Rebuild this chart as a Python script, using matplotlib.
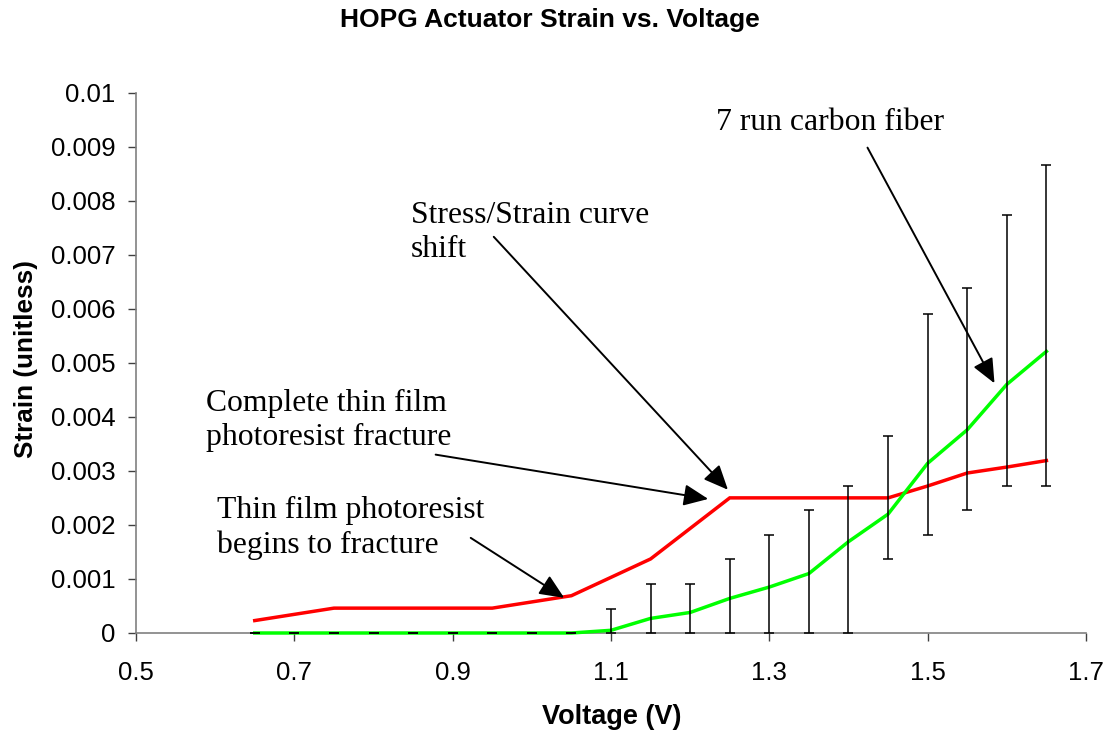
import matplotlib
matplotlib.use("Agg")
import matplotlib.pyplot as plt

# Voltage steps (V)
volts = [0.65, 0.70, 0.75, 0.80, 0.85, 0.90, 0.95, 1.00, 1.05, 1.10, 1.15,
         1.20, 1.25, 1.30, 1.35, 1.40, 1.45, 1.50, 1.55, 1.60, 1.65]

# 7 run carbon fiber mean strain
fiber_strain = [0, 0, 0, 0, 0, 0, 0, 0, 0, 0.00005, 0.00027,
                0.00038, 0.00064, 0.00085, 0.00110, 0.00169, 0.00220, 0.00314, 0.00376, 0.00460, 0.00521]

# Spread of the 7 runs (lowest / highest strain)
fiber_low = [0, 0, 0, 0, 0, 0, 0, 0, 0, 0, 0,
             0, 0, 0, 0, 0, 0.00136, 0.00182, 0.00227, 0.00272, 0.00272]
fiber_high = [0, 0, 0, 0, 0, 0, 0, 0, 0, 0.00045, 0.00091,
              0.00091, 0.00136, 0.00181, 0.00227, 0.00272, 0.00364, 0.00590, 0.00638, 0.00774, 0.00865]

# HOPG actuator strain curve
hopg_volts = [0.65, 0.75, 0.95, 1.05, 1.15, 1.25, 1.45, 1.50, 1.55, 1.60, 1.65]
hopg_strain = [0.00023, 0.00046, 0.00046, 0.00069, 0.00137, 0.00250, 0.00250,
               0.00272, 0.00296, 0.00307, 0.00319]

x_ticks = [0.5, 0.7, 0.9, 1.1, 1.3, 1.5, 1.7]
x_tick_labels = ["0.5", "0.7", "0.9", "1.1", "1.3", "1.5", "1.7"]
y_ticks = [0, 0.001, 0.002, 0.003, 0.004, 0.005, 0.006, 0.007, 0.008, 0.009, 0.01]
y_tick_labels = ["0", "0.001", "0.002", "0.003", "0.004", "0.005", "0.006",
                 "0.007", "0.008", "0.009", "0.01"]

SANS = "Liberation Sans"
SERIF = "Liberation Serif"

W, H = 1109, 733
fig = plt.figure(figsize=(W / 100, H / 100), dpi=100)
ax = fig.add_axes([136 / W, (H - 633) / H, (1086 - 136) / W, (633 - 92.5) / H])

ax.plot(hopg_volts, hopg_strain, color="#ff0000", lw=2.5, zorder=3, clip_on=False,
        solid_joinstyle="miter")
ax.plot(volts, fiber_strain, color="#00ff00", lw=2.5, zorder=3, clip_on=False,
        solid_joinstyle="miter")

err_lo = [m - lo for m, lo in zip(fiber_strain, fiber_low)]
err_hi = [hi - m for m, hi in zip(fiber_strain, fiber_high)]
eb = ax.errorbar(volts, fiber_strain, yerr=[err_lo, err_hi], fmt="none",
                 ecolor="black", elinewidth=1.1, capsize=3.8, capthick=1.1, zorder=4)
for artist in list(eb.lines[1]) + list(eb.lines[2]):
    artist.set_clip_on(False)

ax.set_xlim(0.5, 1.7)
ax.set_ylim(0, 0.01)
ax.set_xticks(x_ticks)
ax.set_xticklabels(x_tick_labels, fontfamily=SANS, fontsize=18.5)
ax.set_yticks(y_ticks)
ax.set_yticklabels(y_tick_labels, fontfamily=SANS, fontsize=18.5)
ax.tick_params(axis="y", direction="out", length=6, width=1, color="#404040", pad=9)
ax.tick_params(axis="x", direction="out", length=6, width=1, color="#404040", pad=14)

for side in ("top", "right"):
    ax.spines[side].set_visible(False)
for side in ("left", "bottom"):
    ax.spines[side].set_color("#808080")
    ax.spines[side].set_linewidth(1.2)

fig.text(550 / W, 1 - 20 / H, "HOPG Actuator Strain vs. Voltage", ha="center", va="center",
         fontfamily=SANS, fontweight="bold", fontsize=19)
fig.text(612 / W, 1 - 717 / H, "Voltage (V)", ha="center", va="center",
         fontfamily=SANS, fontweight="bold", fontsize=19.5)
fig.text(26 / W, 1 - 359 / H, "Strain (unitless)", ha="center", va="center", rotation=90,
         fontfamily=SANS, fontweight="bold", fontsize=18.8)

# Callouts: (text, baseline anchor of last line, arrow tail, arrow head)
callouts = [
    ("7 run carbon fiber", (1.233, 0.00931), (1.424, 0.00898), (1.5844, 0.00462)),
    ("Stress/Strain curve\nshift", (0.8468, 0.00696), (0.9519, 0.00733), (1.2477, 0.00265)),
    ("Complete thin film\nphotoresist fracture", (0.5886, 0.00348), (0.8785, 0.00330), (1.2228, 0.00248)),
    ("Thin film photoresist\nbegins to fracture", (0.6021, 0.00148), (0.9228, 0.00176), (1.0409, 0.00065)),
]
for label, txt_xy, tail, head in callouts:
    ax.text(txt_xy[0], txt_xy[1], label, ha="left", va="baseline", fontfamily=SERIF,
            fontsize=22.8, linespacing=1.24, zorder=5)
    ax.annotate("", xy=head, xytext=tail,
                arrowprops=dict(arrowstyle="-|>,head_length=0.75,head_width=0.33",
                                mutation_scale=20, lw=1.4, color="black",
                                shrinkA=0, shrinkB=0),
                zorder=5, annotation_clip=False)

fig.savefig("out.png", dpi=100)
